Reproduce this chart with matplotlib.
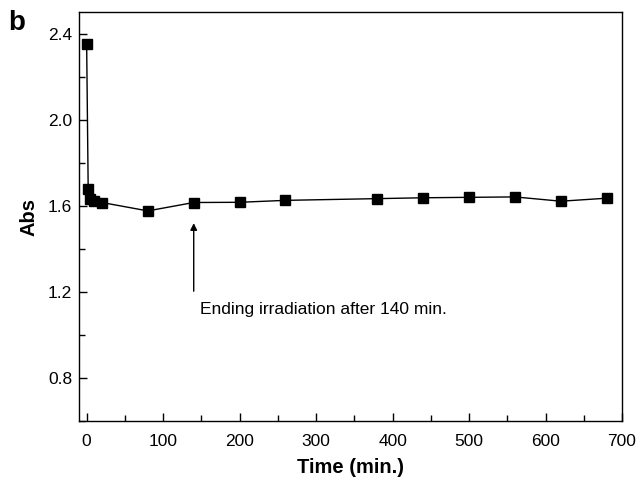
import matplotlib
matplotlib.use("Agg")
import matplotlib.pyplot as plt
from matplotlib.ticker import MultipleLocator

plt.rcParams['font.family'] = ['Liberation Sans', 'DejaVu Sans']

# time (min) and absorbance
time_min = [0, 2, 5, 10, 20, 80, 140, 200, 260, 380, 440, 500, 560, 620, 680]
absorb = [2.35, 1.68, 1.632, 1.62, 1.615, 1.576, 1.615, 1.616, 1.625, 1.633,
          1.637, 1.639, 1.641, 1.621, 1.635]

annot_text = "Ending irradiation after 140 min."
annot_x = 140

fig = plt.figure(figsize=(6.39, 4.79), dpi=100)
ax = fig.add_axes([79 / 639, 58 / 479, 543 / 639, 409 / 479])

ax.plot(time_min, absorb, color="black", lw=1.0, marker="s", ms=6.5,
        mec="black", mfc="black")

ax.set_xlim(-10, 700)
ax.set_ylim(0.6, 2.5)
ax.xaxis.set_major_locator(MultipleLocator(100))
ax.xaxis.set_minor_locator(MultipleLocator(50))
ax.yaxis.set_minor_locator(MultipleLocator(0.2))
ax.set_yticks([0.8, 1.2, 1.6, 2.0, 2.4])
ax.set_yticklabels(["0.8", "1.2", "1.6", "2.0", "2.4"])
ax.tick_params(which="both", direction="in", labelsize=12.5, width=1)
ax.tick_params(which="major", length=6)
ax.tick_params(which="minor", length=4)
ax.tick_params(axis="x", pad=9)
ax.tick_params(axis="y", pad=5)
for s in ax.spines.values():
    s.set_linewidth(1.0)

ax.set_xlabel("Time (min.)", fontsize=14.5, fontweight="bold", labelpad=7)
ax.set_ylabel("Abs", fontsize=14.5, fontweight="bold", labelpad=7)

ax.annotate("", xy=(annot_x, 1.532), xytext=(annot_x, 1.19),
            arrowprops=dict(arrowstyle="-|>", color="black", lw=1.0,
                            mutation_scale=10))
ax.text(annot_x + 8, 1.12, annot_text, fontsize=12.5, ha="left", va="center")

fig.text(8 / 639, 1 - 23 / 479, "b", fontsize=20, fontweight="bold",
         ha="left", va="center")

fig.savefig("out.png", dpi=100)
